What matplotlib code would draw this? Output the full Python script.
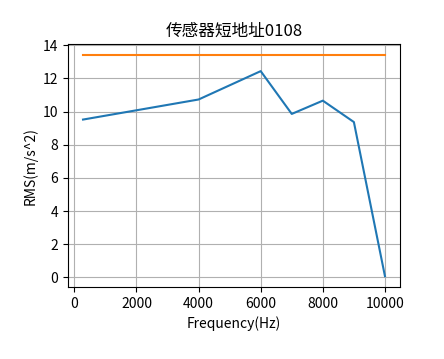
import matplotlib
matplotlib.use('Agg')
import matplotlib.pyplot as plt

plt.rcParams['font.family'] = ['Noto Sans CJK SC', 'DejaVu Sans']
plt.rcParams['axes.unicode_minus'] = False

freq = [280, 4000, 6000, 7000, 8000, 9000, 10000]
rms = [9.52, 10.73, 12.44, 9.86, 10.66, 9.37, 0.08]
limit_x = [280, 10000]
limit_y = [13.4, 13.4]

fig = plt.figure(figsize=(4.44, 3.59), dpi=100)
ax = fig.add_axes([0.153, 0.2, 0.748, 0.677])
ax.plot(freq, rms)
ax.plot(limit_x, limit_y)
ax.set_title('传感器短地址0108')
ax.set_xlabel('Frequency(Hz)')
ax.set_ylabel('RMS(m/s^2)')
ax.set_xticks([0, 2000, 4000, 6000, 8000, 10000])
ax.set_yticks(range(0, 15, 2))
ax.grid(True)

plt.savefig('out.png', dpi=100)
